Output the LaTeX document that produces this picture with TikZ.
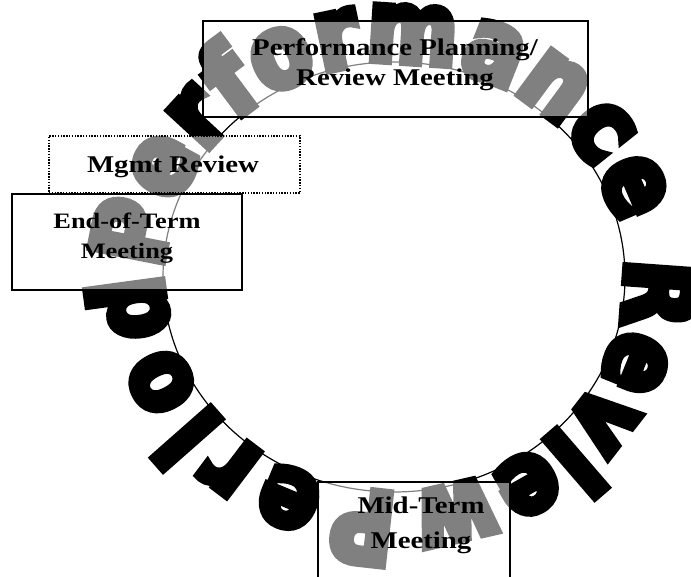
\documentclass[tikz,border=0pt]{standalone}
\usepackage{fontspec}
\setmainfont{Liberation Serif}
\newfontfamily\boxfont{Liberation Serif}[FakeStretch=1.2]
\newfontfamily\bigfont{DejaVu Sans Bold}[FakeBold=8, FakeStretch=0.86]
\usetikzlibrary{decorations.text}
\newcommand\bigtxt{\bigfont\fontsize{100}{100}\selectfont}
\begin{document}
\begin{tikzpicture}[x=1pt,y=-1pt,
  boxsolid/.style={draw=black, line width=2pt, fill=white, fill opacity=0.5, inner sep=0pt, outer sep=0pt},
  boxdot/.style={draw=black, line width=1.2pt, dash pattern=on 1.4pt off 1.4pt, fill=white, fill opacity=0.5, inner sep=0pt, outer sep=0pt},
  lbl/.style={align=center, inner sep=0pt, text=black},
  circ/.style={draw=black, line width=1.2pt},
  arctext/.style={decorate, decoration={text along path, text format delimiters={|}{|},
    text={|\bigtxt|#1}, text align=fit to path}}]
\useasboundingbox (0,0) rectangle (691,577);
\clip (0,0) rectangle (691,577);
\fill[white] (0,0) rectangle (691,577);
% circle
\draw[circ] (394,277) ellipse [x radius=231, y radius=215];
% curved text
\path[arctext=Performance]
  (394,277) ++(182:231 and 215) arc [start angle=182, end angle=346, x radius=231, y radius=215];
\path[arctext=Review]
  (394,277) ++(355:231 and 215) arc [start angle=355, end angle=446, x radius=231, y radius=215];
\path[arctext=Period]
  (394,277) ++(449:231 and 215) arc [start angle=449, end angle=541, x radius=231, y radius=215];
% boxes
\node[boxsolid, minimum width=385pt, minimum height=96pt] (pp) at (395.5,69) {};
\node[boxdot, minimum width=251pt, minimum height=57pt] (mg) at (174.5,164.5) {};
\node[boxsolid, minimum width=230pt, minimum height=96pt] (et) at (127,242) {};
\node[boxsolid, minimum width=192pt, minimum height=130pt] (mt) at (414,547) {};
% labels
\node[lbl, font=\boxfont\bfseries\fontsize{24}{30}\selectfont] (ppt) at (395,64.4) {Performance Planning/\\Review Meeting};
\node[lbl, font=\boxfont\bfseries\fontsize{24}{30}\selectfont] (mgt) at (173,166.6) {Mgmt Review};
\node[lbl, font=\boxfont\bfseries\fontsize{22}{30}\selectfont] (ett) at (127,237.9) {End-of-Term\\Meeting};
\node[lbl, font=\boxfont\bfseries\fontsize{24}{35}\selectfont] (mtt) at (421,524.9) {Mid-Term\\Meeting};
\end{tikzpicture}
\end{document}
